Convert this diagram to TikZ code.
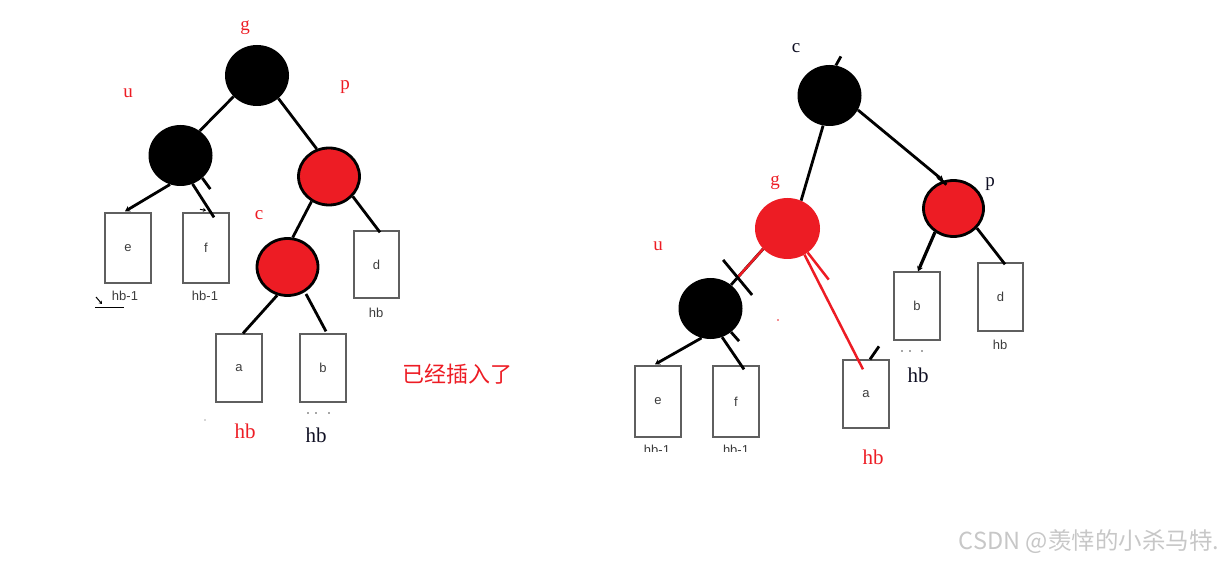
\documentclass[tikz,border=0pt]{standalone}
\usepackage{fontspec}
\setmainfont{Liberation Serif}
\setsansfont{Liberation Sans}
\newfontfamily\cjk{Noto Sans CJK SC}
\usetikzlibrary{shapes.geometric,calc,arrows.meta}
\definecolor{pred}{RGB}{237,28,36}
\definecolor{boxgray}{RGB}{95,95,95}
\definecolor{txtgray}{RGB}{60,60,60}
\definecolor{navy}{RGB}{15,15,35}
\begin{document}
\begin{tikzpicture}[x=1pt,y=-1pt,
  blacknode/.style={ellipse,fill=black,minimum width=64pt,minimum height=61pt,inner sep=0pt},
  rednode/.style={ellipse,fill=pred,draw=black,line width=2.8pt,minimum width=61pt,minimum height=57pt,inner sep=0pt},
  redplain/.style={ellipse,fill=pred,minimum width=65pt,minimum height=61pt,inner sep=0pt},
  leaf/.style={rectangle,draw=boxgray,line width=1.3pt,minimum width=46pt,minimum height=70pt,inner sep=0pt,font=\sffamily\fontsize{13}{13}\selectfont,text=txtgray},
  sub/.style={font=\sffamily\fontsize{13}{13}\selectfont,text=txtgray,inner sep=0pt},
  lbl/.style={font=\fontsize{19}{19}\selectfont,text=pred,inner sep=0pt},
  big/.style={font=\fontsize{21}{21}\selectfont,inner sep=0pt},
  edge/.style={line width=2.8pt,black},
  redge/.style={line width=2.5pt,pred},
  tip/.style={-{Stealth[length=5pt,width=6pt]}}]
\useasboundingbox (0,0) rectangle (1223,561);

% ---------------- left tree ----------------
\node[blacknode] (g1) at (257,75.5) {};
\node[blacknode] (u1) at (180.5,155.5) {};
\node[rednode] (p1) at (329,176.5) {};
\node[rednode] (c1) at (287.5,267) {};
\node[leaf] (e1) at (128,248) {e};
\node[leaf] (f1) at (206,248) {f};
\node[leaf,minimum width=45pt,minimum height=67pt] (d1) at (376.5,264.5) {d};
\node[leaf,minimum height=68pt] (a1) at (239,368) {a};
\node[leaf,minimum height=68pt] (b1) at (323,368) {b};

\node[lbl] (lg1) at (245,28) {g};
\node[lbl] (lu1) at (128,93) {u};
\node[lbl] (lp1) at (345,87) {p};
\node[lbl] (lc1) at (259,215) {c};
\node[sub] (he1) at (125,296) {hb-1};
\node[sub] (hf1) at (205,296) {hb-1};
\node[sub] (hd1) at (376,313) {hb};
\node[big,text=pred] (ha1) at (245,431) {hb};
\node[big,text=navy] (hb1) at (316,435) {hb};
\node[font=\cjk\fontsize{22}{22}\selectfont,text=pred,inner sep=0pt] (note) at (457,374) {已经插入了};

\draw[edge] (g1.222) -- (u1.52);
\draw[edge] (g1.313) -- (p1.114);
\draw[edge,tip] (u1.250) -- ($(e1.north)+(-3,-1)$);
\draw[edge] (u1.293) -- ($(f1.north)+(8,5)$);
\draw[edge] (u1.314) -- +(8,11);
\draw[line width=1pt,-{Stealth[length=3pt,width=4pt]}] ($(f1.north)+(-6,-3)$) -- ($(f1.north)+(0,-2)$);
\draw[edge] (p1.235) -- (c1.80);
\draw[edge] (p1.320) -- ($(d1.north)+(3.5,2)$);
\draw[edge] (c1.250) -- ($(a1.north)+(4,0)$);
\draw[edge] ($(c1.305)+(1,2)$) -- ($(b1.north)+(3,-2)$);
% small scribbles
\draw[line width=1pt] (95,307) -- (124,307);
\draw[line width=1pt,-{Stealth[length=3pt,width=4pt]}] (96,297) -- (102,304);
\fill[black!70] (308,413) circle (0.8) (316,413) circle (0.8) (329,413) circle (0.8) (205,420) circle (0.6);

% ---------------- right tree ----------------
\node[blacknode] (c2) at (829.5,95.5) {};
\node[redplain] (g2) at (787.5,228.5) {};
\node[rednode,minimum width=60pt,minimum height=56pt] (p2) at (953.5,208.5) {};
\node[blacknode] (u2) at (710.5,308.5) {};
\node[leaf,minimum height=68pt] (b2) at (917,306) {b};
\node[leaf,minimum width=45pt,minimum height=68pt] (d2) at (1000.5,297) {d};
\node[leaf,minimum height=68pt] (a2) at (866,394) {a};
\node[leaf,minimum height=71pt] (e2) at (658,401.5) {e};
\node[leaf,minimum height=71pt] (f2) at (736,401.5) {f};

\node[lbl,text=navy] (lc2) at (796,48) {c};
\node[lbl] (lg2) at (775,183) {g};
\node[lbl,text=navy] (lp2) at (990,184) {p};
\node[lbl] (lu2) at (658,246) {u};
\node[sub] (hd2) at (1000,345) {hb};
\node[big,text=navy] (hb2) at (918,375) {hb};
\node[big,text=pred] (ha2) at (873,457) {hb};
\begin{scope}
\clip (600,438) rectangle (800,451);
\node[sub] (he2) at (657,450) {hb-1};
\node[sub] (hf2) at (736,450) {hb-1};
\end{scope}

\draw[edge] (c2.78) -- +(5,-9);
\draw[edge] (c2.258) -- (g2.64);
\draw[edge,tip] (c2.333) -- (p2.110);
\draw[edge] ($(p2.110)+(-6,-4)$) -- ($(p2.110)+(3,4)$);
\draw[edge] (g2.220) -- (u2.49);
\coordinate (x2) at ($(g2.220)!0.78!(u2.49)$);
\draw[redge] (g2.220) -- (x2);
\draw[edge] ($(x2)+(-15,-17)$) -- ($(x2)+(14,18)$);
\draw[redge] (g2.303) -- ($(a2.north)+(-3,10)$);
\draw[redge] (g2.310) -- +(21,27);
\draw[edge] ($(a2.north)+(4,0)$) -- +(9,-13);
\draw[edge,tip,line width=3.2pt] (p2.232) -- ($(b2.north)+(1,0)$);
\draw[edge] (p2.320) -- ($(d2.north)+(4.5,2)$);
\draw[edge,tip] (u2.253) -- ($(e2.north)+(-3,-1)$);
\draw[edge] (u2.292) -- ($(f2.north)+(8,4)$);
\draw[edge] (u2.311) -- +(8,9);
\fill[black!70] (902,351) circle (0.8) (910,351) circle (0.8) (922,351) circle (0.8);
\fill[pred] (778,320) circle (0.8);

% watermark
\node[font=\cjk\fontsize{23.5}{23.5}\selectfont,text=black!22,inner sep=0pt] (wm) at (1089,542) {CSDN @羡悻的小杀马特.};
\end{tikzpicture}
\end{document}
